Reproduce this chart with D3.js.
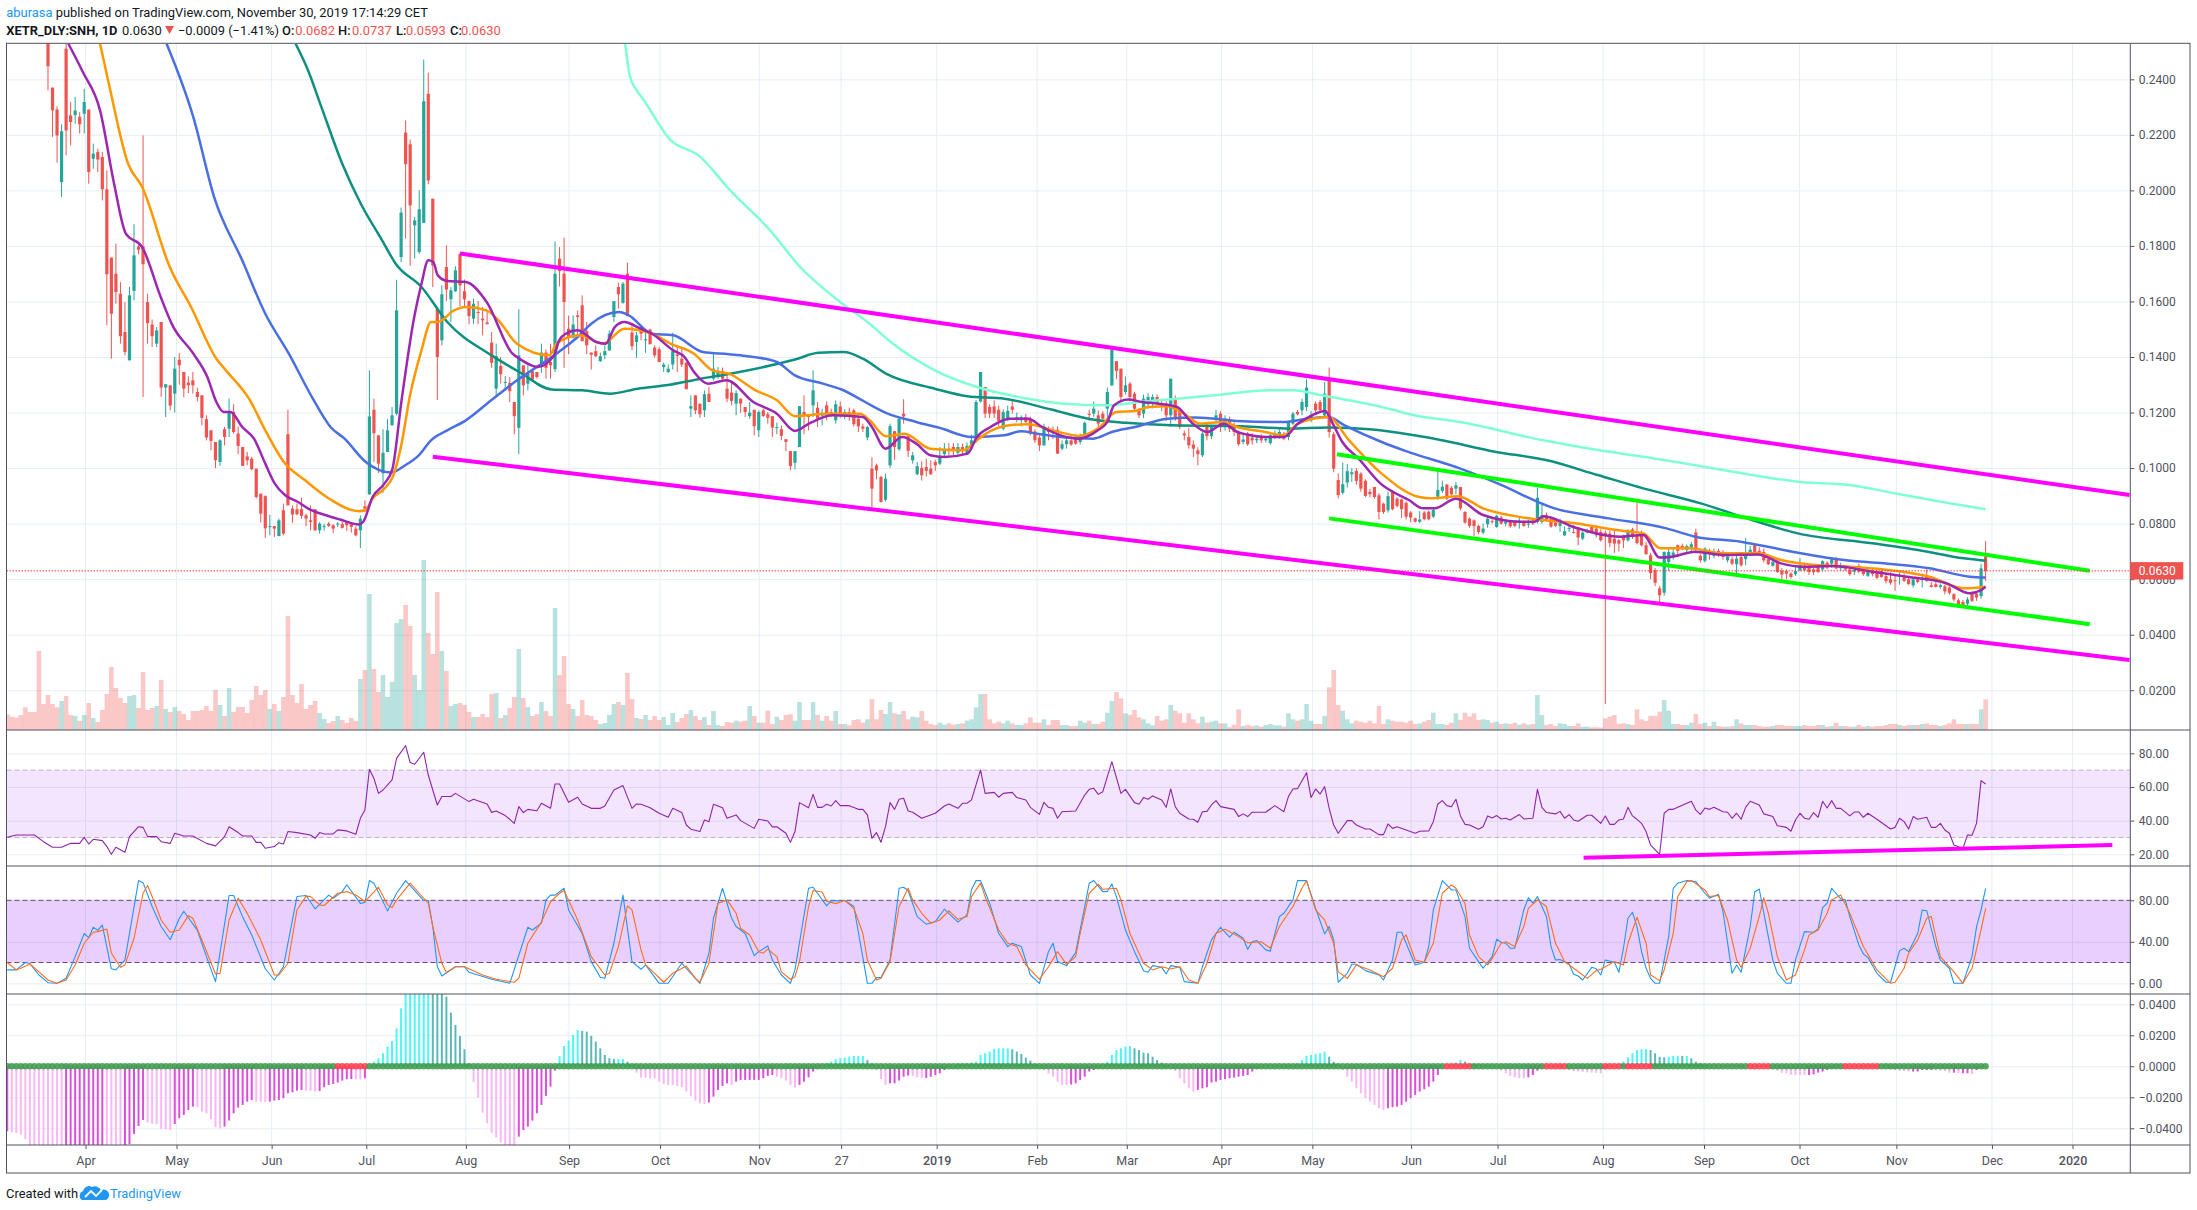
<!DOCTYPE html>
<html><head><meta charset="utf-8">
<script src="https://cdn.jsdelivr.net/npm/d3@7"></script>
<style>
html,body{margin:0;padding:0;background:#fff;overflow:hidden}
svg{display:block}
text{font-family:Roboto,"Noto Sans",sans-serif}
</style></head><body><svg id="c" width="2197" height="1210"></svg>
<script>
// ---------- categories / ticks ----------
const timeTickBars=[17.3,37.4,58.4,79.3,101.3,124.1,144.2,166.1,184.2,205.3,227.5,247.3,268.2,288.3,310.1,329.2,352.5,374.8,395.9,417.3,438.4,456.2];
const timeTickLabels=["Apr","May","Jun","Jul","Aug","Sep","Oct","Nov","27","2019","Feb","Mar","Apr","May","Jun","Jul","Aug","Sep","Oct","Nov","Dec","2020"];
const priceTicks=[0.02,0.04,0.06,0.08,0.10,0.12,0.14,0.16,0.18,0.20,0.22,0.24];
const rsiTicks=[20,40,60,80];
const stochTicks=[0,40,80];
const macdTicks=[-0.04,-0.02,0,0.02,0.04];
const lastPrice=0.063;
// ---------- candles: [open, high, low, close], price in 1e-4 units ----------
const candles=[
[3150,3200,3000,3050],[3050,3100,2900,2950],[2950,3050,2850,2900],[2900,2980,2800,2850],[2850,2950,2750,2800],[2800,2850,2650,2700],[2700,2800,2600,2650],[2650,2750,2560,2620],[2620,2680,2540,2570],
[2560,2600,2360,2447],[2370,2370,2193,2288],[2291,2303,2100,2198],[2030,2238,1976,2213],[2510,2530,2126,2216],[2270,2318,2162,2246],[2271,2336,2240,2288],[2265,2282,2205,2238],[2276,2366,2205,2318],[2291,2291,2024,2066],[2114,2168,2078,2132],
[2138,2150,2066,2111],[2120,2138,1964,2004],[2004,2072,1514,1698],[1758,1758,1394,1556],[1700,1808,1592,1634],[1628,1670,1448,1475],[1490,1598,1406,1418],[1388,1652,1388,1622],[1638,1878,1604,1766],[1798,1808,1770,1786],
[1798,2198,1256,1734],[1598,1628,1448,1522],[1517,1535,1436,1475],[1448,1508,1436,1496],[1526,1526,1256,1290],[1290,1302,1184,1302],[1298,1298,1208,1225],[1268,1400,1200,1358],[1390,1414,1300,1370],[1346,1346,1255,1286],
[1308,1330,1270,1298],[1316,1346,1268,1298],[1274,1290,1240,1256],[1262,1262,1154,1181],[1176,1190,1100,1110],[1136,1136,1064,1098],[1094,1094,1000,1028],[1022,1104,1008,1100],[1140,1148,1082,1112],[1142,1250,1112,1202],
[1202,1230,1124,1130],[1124,1150,1050,1080],[1076,1076,1008,1008],[1042,1058,1010,1028],[1034,1040,992,996],[998,998,890,896],[908,908,804,836],[899,902,749,783],[788,832,758,791],[791,791,752,782],
[755,818,755,812],[848,872,758,764],[1122,1210,866,866],[854,866,803,833],[852,872,830,834],[852,894,818,828],[830,836,790,818],[812,866,776,806],[852,852,774,776],[776,806,764,800],
[788,800,775,791],[800,806,788,792],[794,798,766,782],[798,806,788,800],[798,806,782,785],[806,810,774,794],[800,800,768,788],[782,790,754,758],[776,830,712,818],[862,884,842,854],
[905,1352,905,1186],[1210,1250,1022,1126],[1118,1118,982,1016],[981,1140,911,1055],[1058,1176,1058,1136],[1154,1220,1154,1190],[1196,1678,1190,1568],[1760,1938,1742,1920],[2208,2252,1826,2094],[2166,2183,1728,1946],
[1874,1904,1754,1892],[1778,2000,1772,1932],[1883,2471,1883,2321],[2348,2424,2022,2036],[1970,1970,1652,1730],[1574,1574,1245,1400],[1460,1658,1442,1626],[1724,1802,1602,1643],[1608,1652,1526,1640],[1637,1727,1634,1712],
[1770,1775,1583,1658],[1637,1679,1583,1608],[1602,1602,1518,1547],[1538,1610,1520,1592],[1562,1602,1518,1559],[1538,1580,1478,1532],[1524,1568,1518,1518],[1452,1490,1361,1379],[1286,1448,1262,1403],[1368,1400,1304,1338],
[1307,1331,1278,1310],[1307,1328,1238,1277],[1238,1238,1122,1187],[1145,1572,1050,1406],[1370,1370,1262,1298],[1304,1370,1280,1340],[1349,1352,1316,1319],[1346,1346,1322,1328],[1376,1448,1343,1416],[1416,1427,1322,1361],
[1382,1448,1322,1370],[1356,1816,1346,1700],[1754,1796,1654,1710],[1700,1830,1361,1598],[1502,1549,1410,1472],[1470,1550,1466,1517],[1550,1568,1472,1544],[1586,1622,1457,1457],[1493,1526,1410,1442],[1416,1416,1355,1408],
[1421,1442,1400,1403],[1385,1416,1382,1403],[1406,1442,1392,1421],[1424,1496,1422,1484],[1544,1601,1526,1601],[1652,1668,1574,1626],[1595,1670,1592,1664],[1700,1740,1547,1547],[1488,1520,1424,1439],[1454,1490,1397,1478],
[1496,1517,1460,1484],[1460,1496,1415,1464],[1499,1502,1446,1446],[1434,1442,1398,1406],[1428,1436,1382,1382],[1364,1380,1346,1373],[1346,1373,1342,1358],[1373,1488,1355,1421],[1409,1442,1346,1404],[1394,1430,1364,1373],
[1380,1380,1284,1284],[1214,1262,1184,1223],[1262,1262,1194,1208],[1232,1232,1181,1194],[1208,1280,1184,1266],[1268,1292,1238,1238],[1322,1412,1316,1358],[1328,1364,1322,1346],[1349,1362,1318,1322],[1286,1340,1238,1250],
[1272,1308,1226,1242],[1232,1280,1190,1270],[1250,1250,1199,1232],[1220,1220,1184,1202],[1187,1238,1178,1200],[1210,1210,1118,1151],[1136,1208,1112,1202],[1208,1214,1184,1188],[1194,1202,1160,1181],[1187,1187,1112,1146],
[1146,1164,1122,1148],[1140,1154,1100,1116],[1104,1104,1061,1094],[1061,1061,992,1007],[1019,1061,995,1061],[1076,1223,1076,1223],[1202,1262,1122,1190],[1194,1194,1136,1184],[1226,1352,1184,1280],[1217,1238,1148,1178],
[1189,1214,1154,1194],[1226,1240,1172,1190],[1202,1214,1184,1190],[1172,1244,1160,1230],[1222,1240,1180,1196],[1190,1212,1176,1202],[1202,1218,1170,1188],[1208,1214,1150,1158],[1178,1190,1130,1150],[1150,1160,1130,1142],
[1110,1152,1100,1148],[998,1038,854,926],[1010,1016,960,992],[968,972,876,878],[886,980,880,962],[1010,1160,1000,1151],[1133,1133,1030,1076],[1068,1180,1062,1178],[1196,1248,1160,1186],[1115,1115,1040,1062],
[1028,1058,1016,1046],[978,1022,974,1007],[1001,1025,955,974],[1004,1034,970,990],[998,1028,975,978],[1022,1030,990,1010],[1016,1076,1010,1040],[1050,1090,1040,1070],[1070,1090,1045,1062],[1076,1090,1046,1062],
[1055,1090,1050,1076],[1076,1088,1050,1062],[1050,1092,1046,1080],[1070,1120,1066,1100],[1100,1245,1090,1238],[1240,1346,1236,1346],[1292,1292,1180,1196],[1220,1230,1180,1196],[1222,1244,1180,1196],[1210,1225,1150,1170],
[1142,1212,1136,1202],[1178,1225,1170,1206],[1222,1244,1196,1210],[1178,1200,1165,1184],[1172,1190,1150,1184],[1184,1195,1160,1166],[1175,1185,1118,1124],[1132,1140,1090,1100],[1110,1118,1062,1082],[1082,1160,1080,1150],
[1138,1150,1100,1130],[1136,1150,1105,1128],[1138,1150,1052,1052],[1070,1100,1064,1086],[1086,1115,1070,1100],[1100,1115,1080,1085],[1106,1120,1084,1088],[1094,1125,1085,1112],[1118,1168,1105,1163],[1195,1210,1170,1192],
[1196,1240,1185,1214],[1190,1208,1135,1160],[1196,1205,1170,1178],[1214,1290,1180,1274],[1298,1427,1295,1427],[1385,1385,1320,1350],[1358,1358,1240,1256],[1274,1330,1265,1298],[1304,1310,1240,1256],[1268,1275,1205,1214],
[1208,1215,1180,1190],[1196,1265,1180,1250],[1230,1270,1215,1256],[1232,1266,1215,1256],[1256,1265,1225,1234],[1234,1245,1205,1225],[1232,1240,1170,1190],[1190,1322,1148,1322],[1250,1262,1170,1184],[1202,1205,1140,1148],
[1125,1135,1100,1118],[1112,1145,1070,1082],[1085,1100,1040,1070],[1064,1075,1010,1050],[1046,1130,1040,1124],[1148,1160,1100,1115],[1115,1155,1105,1148],[1178,1210,1170,1190],[1196,1205,1130,1148],[1148,1190,1135,1178],
[1172,1185,1130,1142],[1154,1165,1115,1130],[1130,1135,1080,1086],[1094,1125,1085,1103],[1124,1130,1080,1086],[1110,1125,1085,1100],[1100,1115,1090,1106],[1112,1122,1090,1100],[1100,1115,1092,1106],[1090,1125,1085,1118],
[1112,1135,1105,1124],[1112,1140,1105,1130],[1124,1130,1100,1106],[1112,1170,1100,1166],[1160,1202,1155,1196],[1202,1210,1190,1194],[1208,1250,1190,1238],[1220,1320,1205,1290],[1172,1205,1165,1190],[1232,1240,1190,1208],
[1238,1245,1200,1208],[1190,1310,1185,1268],[1316,1362,1110,1130],[1122,1130,985,998],[957,981,891,903],[911,1020,905,942],[948,1015,930,989],[978,1000,950,985],[990,1000,940,954],[980,985,915,926],
[954,960,895,900],[914,925,895,906],[932,932,890,896],[902,910,815,842],[872,875,835,842],[848,915,840,899],[917,920,848,852],[890,895,858,864],[887,890,820,852],[875,880,815,825],
[840,845,805,822],[819,822,804,807],[807,845,802,815],[840,845,812,816],[843,848,812,816],[825,860,820,849],[897,995,886,921],[918,955,910,933],[941,941,885,890],[929,935,900,906],
[926,950,905,938],[932,932,848,855],[842,845,800,804],[818,822,785,792],[812,815,755,791],[792,796,762,770],[768,800,762,782],[798,825,785,818],[809,815,800,806],[788,832,785,828],
[822,828,796,800],[800,818,790,808],[808,812,785,790],[806,810,788,792],[804,825,782,810],[804,810,788,792],[797,815,785,800],[810,815,795,800],[806,930,800,893],[806,868,800,830],
[830,840,808,812],[816,822,785,789],[804,810,788,792],[792,818,770,803],[758,790,755,773],[781,795,770,785],[770,795,765,767],[780,782,722,750],[746,772,740,768],[768,782,765,774],
[790,795,765,770],[782,795,750,758],[770,780,735,740],[767,775,150,758],[764,775,715,730],[746,780,695,728],[740,745,700,728],[752,760,712,740],[740,780,735,774],[779,785,745,752],
[758,875,725,730],[762,775,718,722],[722,735,688,690],[686,695,600,622],[632,640,575,587],[567,575,512,542],[551,700,540,698],[662,715,630,698],[680,715,670,696],[722,725,680,702],
[720,728,705,708],[705,725,695,719],[711,735,700,726],[768,782,693,705],[684,690,660,668],[666,715,660,710],[702,710,670,690],[684,710,675,698],[702,710,680,688],[698,705,670,680],
[668,690,660,682],[672,680,650,656],[654,690,622,674],[680,690,645,650],[672,748,650,686],[698,720,690,706],[722,730,690,695],[702,715,685,690],[698,710,660,668],[672,680,650,654],
[648,678,645,662],[666,670,622,626],[630,640,600,617],[629,635,600,620],[620,625,602,608],[618,645,612,629],[632,675,628,650],[647,660,628,632],[647,650,615,626],[635,642,615,625],
[650,655,622,626],[635,668,628,665],[659,665,635,642],[656,680,640,671],[675,680,635,639],[639,660,630,650],[645,650,630,635],[635,640,612,618],[627,645,615,633],[648,655,622,627],
[632,640,612,618],[612,635,608,629],[632,640,610,618],[629,635,600,605],[629,640,605,608],[611,620,585,593],[600,625,580,587],[596,615,558,594],[608,625,580,614],[612,620,590,594],
[600,610,580,582],[578,606,570,599],[600,608,585,590],[598,620,570,600],[611,635,590,594],[578,590,570,572],[582,590,570,572],[572,585,565,578],[574,580,545,556],[570,575,545,551],
[546,550,520,527],[524,530,505,510],[518,525,505,506],[512,535,505,527],[548,555,518,522],[548,555,522,534],[539,655,530,639],[682,737,593,630]
];
// ---------- volume (relative units) ----------
const volume=[
47,40,37,45,68,54,54,237,78,105,78,68,87,102,45,42,27,45,81,36,24,60,108,189,126,96,81,102,105,66,174,60,66,72,150,63,54,69,57,48,
30,57,57,60,72,57,120,75,42,126,54,69,69,51,90,132,105,120,63,78,57,99,342,105,81,138,63,75,87,51,33,21,27,42,30,21,36,27,153,180,
408,183,114,165,99,144,321,333,375,312,165,120,510,291,228,414,237,177,72,78,81,75,54,39,39,48,39,108,111,36,45,66,99,243,96,69,42,48,84,57,
42,366,165,222,78,63,42,90,45,42,30,18,21,45,78,84,75,171,93,36,33,45,30,42,30,39,15,51,24,36,48,60,42,30,39,15,57,15,12,24,
22,28,25,28,72,42,22,22,58,18,40,30,45,47,28,84,30,30,84,45,28,42,28,57,18,18,14,30,32,22,32,93,32,60,48,84,50,47,57,32,40,38,
57,28,18,15,22,16,20,16,18,20,28,32,68,108,108,32,20,25,20,28,20,15,15,20,38,22,22,32,15,30,30,15,15,12,12,28,22,28,
18,18,25,52,87,114,95,50,45,60,38,32,20,14,42,28,32,75,58,50,22,50,32,20,40,22,25,28,20,20,8,16,62,12,15,12,14,10,15,18,
14,14,10,50,32,28,32,78,28,18,18,42,128,180,75,58,32,20,28,25,22,28,20,72,18,32,28,25,25,22,28,18,20,25,30,52,18,18,15,22,50,30,
52,40,50,30,32,30,22,25,18,20,18,22,16,20,16,18,105,45,15,18,12,20,18,12,12,20,10,10,8,8,7,35,40,45,18,20,18,15,62,32,
27,43,42,55,90,58,18,18,15,15,22,48,18,22,12,25,12,10,10,12,32,20,15,15,15,12,10,10,12,15,15,12,12,12,12,15,12,12,15,15,
10,12,22,12,12,10,10,15,10,12,10,12,12,15,18,18,15,12,15,15,15,18,20,15,15,12,15,20,32,18,18,18,18,18,62,92];
// ---------- moving averages: bar position and price (1e-4) ----------
const maPurpleBar=[13.5,16.7,20.5,23.6,26.2,29.8,33.9,36.5,41.1,44.2,46.2,47.8,49.3,51.9,54.5,57,59.1,61.4,64.2,66.8,70.4,73.5,77.6,78.6,80.7,83.3,85.1,87.1,89.9,91.5,93,94.1,95.1,97.2,101.3,105.9,111.6,113.1,117.2,120.8,121.9,123.4,126,128,130.1,132.2,134.2,136.3,139.9,142.4,147.1,149.6,151.7,154.8,158.9,164.8,170,174,177.1,182.3,189,191,194,197.7,200.8,203.9,207,212.1,214.2,217.2,221.4,225.5,228.6,232.7,236.8,240.9,243,244.5,247.6,250.7,254.3,258.4,261.5,265.1,268.7,271.7,273.8,277.9,282,285.1,288.2,291.1,292.8,294.9,298.5,303.3,309.6,312.8,315.3,320,326,334.3,337.4,339.3,346.3,356.4,361.4,365,367.7,372.8,379.1,386.7,391.8,396.8,403.1,412,419.6,428.4,433.5,436,437];
const maPurpleVal=[2528,2426,2288,2024,1844,1796,1616,1514,1412,1328,1238,1202,1202,1148,1106,1016,944,902,878,851,830,815,797,806,896,944,998,1244,1544,1664,1748,1742,1694,1674,1670,1598,1412,1394,1364,1406,1460,1484,1496,1478,1454,1448,1508,1526,1502,1484,1424,1400,1346,1304,1316,1238,1196,1134,1160,1190,1184,1148,1070,1112,1088,1046,1040,1052,1112,1148,1178,1178,1148,1118,1106,1136,1166,1226,1247,1238,1232,1220,1166,1130,1160,1130,1121,1112,1112,1160,1190,1206,1160,1094,1034,945,885,855,855,890,831,807,807,827,786,753,759,678,681,699,687,689,657,645,647,627,609,585,549,561,573];
const maOrangeBar=[20.5,22.6,26.7,29.8,35.9,40.6,46.2,48.3,53.4,57,61.1,65.8,71.4,77.6,79.1,80.7,83.3,85.3,87.1,88.9,91.5,93.6,95.1,98.7,101.3,105.9,108.5,112.6,119.8,121.3,126.5,131.6,136.3,142.4,146.5,151.7,155.8,159.4,165.3,170,174,177.1,180.2,188.4,190.5,194.1,198.2,203.9,211.1,214.2,216.2,221.4,225.5,231.6,236.8,240.9,245,249.1,252.2,256.3,259.9,263.5,268.7,271.7,277.9,282,285.1,291.8,296.4,303.6,311.9,314.7,320.4,326,336.1,346.3,356.4,361.4,365.2,371.5,379.1,386.7,391.8,399.3,406.9,414.5,424.6,432.2,437];
const maOrangeVal=[2528,2372,2096,2012,1724,1580,1394,1352,1250,1136,1022,956,887,845,848,890,926,974,1088,1256,1424,1526,1526,1568,1580,1568,1532,1448,1406,1448,1478,1448,1502,1484,1448,1412,1352,1340,1280,1244,1187,1190,1196,1196,1172,1115,1124,1070,1064,1100,1124,1154,1158,1133,1116,1142,1202,1206,1220,1223,1196,1160,1166,1148,1130,1118,1160,1184,1100,980,896,891,899,855,819,801,775,765,711,711,693,693,669,651,645,635,609,567,573];
const maBlueBar=[35.2,41.1,45.7,51.9,57,62.2,67.5,71.4,74.5,79.2,84.8,87.9,90.9,93.6,97.2,101.3,106.9,112.6,121.3,126,129,135.2,137.3,142.4,147.1,153.7,159.4,164.8,170,174,180.2,184.3,189.5,194.1,200.8,205.9,213.1,220.3,223.9,227.5,233.7,239.9,244,249.1,256.3,262.5,271.7,282,287.2,291.8,295.4,303.6,308.8,321,329.2,341.8,353.8,366.5,372.8,382.9,394.3,405.7,414.5,424.6,433.5,437];
const maBlueVal=[2528,2264,1976,1748,1556,1412,1250,1148,1106,1022,984,1010,1046,1100,1136,1172,1244,1316,1412,1472,1520,1562,1550,1484,1478,1418,1410,1400,1382,1334,1304,1283,1238,1199,1166,1145,1112,1118,1133,1124,1110,1106,1130,1148,1178,1182,1170,1166,1178,1184,1154,1094,1062,998,945,855,819,783,753,735,699,669,657,639,609,606];
const maTealBar=[63.7,66.3,69.4,74,78.1,82.8,85.8,91.5,97.2,107,113.1,120.3,127,133.2,139.3,145.5,153.2,159.7,174,179.2,184.8,189,194.1,204.9,212.1,220.3,230.6,238.8,247.1,257.3,272.8,283.1,291.8,301.6,310.8,316.6,328.6,339.9,351.3,361.4,374.1,385.4,395.5,412,422.1,432.2,437];
const maTealVal=[2528,2438,2300,2096,1952,1820,1736,1652,1526,1406,1346,1283,1280,1268,1286,1298,1322,1340,1391,1415,1418,1394,1340,1286,1259,1250,1211,1178,1163,1154,1151,1142,1146,1139,1118,1101,1059,1029,975,927,873,813,765,729,705,675,666];
const maAquaBar=[136.5,137.5,138.8,140.4,146.6,152.7,159.7,168.5,175.1,183.9,190.5,195.1,204.9,214.2,225.5,233.7,243,250.2,258.4,266.6,278.9,284.1,290.3,296.4,303.6,310.8,320.9,339.3,351.3,361.4,374.1,385.4,395.5,406.9,417,427.1,437];
const maAquaVal=[2528,2414,2366,2330,2180,2126,2000,1856,1725,1599,1520,1455,1352,1292,1250,1232,1226,1238,1250,1262,1280,1280,1262,1244,1220,1190,1166,1100,1065,1041,1007,975,951,939,909,879,852];
// ---------- drawn trend lines: bar and price (1e-4) ----------
const channelUpperBar=[100,468.8], channelUpperVal=[1773,903];
const channelLowerBar=[94,468.8], channelLowerVal=[1041,309];
const greenUpperBar=[293.7,460], greenUpperVal=[1050,630];
const greenLowerBar=[292,460], greenLowerVal=[819,438];
const rsiTrendBar=[348.2,465], rsiTrendVal=[18,25.5];
// ---------- RSI ----------
const rsiBar=[0,2,4,6,8,10,12,14,16,17,18,19,21,22,23,24,26,27,29,30,31,33,34,36,37,39,41,44,46,48,49,51,52,54,55,56,57,59,60,61,62,64,67,68,69,70,72,73,75,77,78,79,80,81,82,83,85,86,88,89,90,92,93,95,96,98,99,102,103,106,107,108,110,111,112,113,114,115,117,118,120,121,122,124,126,127,129,131,132,134,136,138,139,140,142,144,146,147,149,150,151,153,154,155,156,158,159,161,162,165,166,168,169,170,172,173,174,175,177,178,179,180,181,182,183,184,186,188,189,190,191,192,193,194,195,196,197,198,199,200,202,205,207,208,210,211,212,213,215,216,218,219,220,222,223,225,226,228,229,230,231,232,233,236,238,239,240,241,242,244,246,247,249,250,251,252,253,255,256,257,258,259,261,262,263,264,265,266,267,268,271,272,273,274,275,278,280,282,283,284,285,287,288,289,290,291,292,293,294,296,297,298,300,301,303,304,305,306,307,309,311,312,314,315,316,317,318,319,320,321,322,323,325,326,327,328,329,330,331,332,334,335,337,338,339,340,342,343,344,345,346,347,349,350,352,353,354,355,356,357,358,359,360,361,362,363,365,366,367,368,372,373,374,375,376,377,379,380,381,382,383,384,385,387,388,390,391,393,394,395,396,397,398,399,400,401,402,403,404,405,407,408,409,410,411,413,416,417,418,419,420,421,422,424,425,426,427,428,429,430,432,433,434,435,436,437];
const rsiVal=[30.1,31.5,31.5,31.5,27.5,24.2,24.2,26.5,26.5,30.1,26.1,28.9,28.1,24.6,20,24.2,21.2,30.5,36.4,36,30.5,30.5,27.5,26.5,32.5,30.9,30.9,26.5,25,30.5,36.4,32.9,30.9,30.9,27.1,27.1,23.6,24.6,26.9,26.1,33.5,32.9,31.5,29.5,32.9,32.1,32.1,34.5,33.9,31.9,41.4,46.3,70.5,65.1,56.2,58.2,64.2,77,84.6,74.5,73.5,80.6,67.1,49.3,54.3,54.3,56.2,51.3,52.7,49.9,44.9,45.7,43,40.8,38.4,48.3,44.8,46.7,45.9,50.3,47.3,61.8,61.8,50.9,53.9,49.9,47.3,47.3,48.7,58.2,60.8,47.3,49.9,49.7,47.7,44.4,42,47.3,44.8,37.4,34.9,33.5,40.4,39.4,49.7,47.7,41.4,43.4,40,35.4,40.8,39.8,36.3,36.4,32.5,27.1,33.5,50.7,47.7,55.6,47.9,47.9,49.7,48.7,51.9,48.9,48.9,46.7,46.7,43.4,29.5,32.9,27.1,36.4,50.7,46.7,52.7,53.3,45.7,45,41.4,44.4,48.7,49.9,47.3,50.3,50.3,52.3,70.1,56.2,56.8,53.9,56.2,56.8,53.7,52.3,47.9,43.7,50.9,47.9,47.3,41.4,45.3,45.7,55.2,58.6,59.2,55.6,57.2,75,56.2,58.6,50.7,49.7,53.7,52.7,54.7,52.3,47.9,58.8,48.3,44.4,41,40.8,39,45.3,45.5,49.3,51.9,48.3,46.7,42.4,44,42.4,45,45,48.9,45.3,54.3,58.8,59,68.5,53.7,58.8,55.8,60.2,47.3,37.4,32.5,40,40,37.4,35,35,31.7,31.7,38,35.4,36.4,34.4,32.5,33.7,33.9,39.4,49.9,51.9,48.9,48.3,52.7,42.8,37.8,37.4,34.9,36.4,42.8,41.6,43,41,41.4,40.4,43.6,41,41.4,58.6,47.9,44.8,44,45.5,41.4,43.6,40.4,39.6,43.2,43.2,38.4,42.8,37.8,37.8,40.4,41,47.9,42.8,40.8,38.4,33.5,25.5,20,44.4,46.7,46.7,51.5,46.3,43.7,47.5,46.7,47.9,45.3,45,41.4,44.4,40.8,47.9,51.5,49.3,44,42.4,37,36,33.7,40.4,44.4,41.4,40.8,44.8,42,51.5,47.5,51.9,47.3,47.3,42.8,45.1,45.1,42,44.4,40.8,35,36,41.4,39.4,35,42.4,40.8,42,36,36,38.4,34.4,32.5,25.5,23.5,31.5,31.3,38.4,63.8,61.8];
const rsiBandHigh=70, rsiBandLow=30;
// ---------- Stochastic ----------
const stochKBar=[0,2,4,5,7,9,11,13,15,17,18,19,20,21,23,24,26,29,30,32,34,36,38,39,42,44,46,49,50,52,54,57,59,61,64,66,68,71,72,74,75,78,79,80,81,84,86,88,92,93,94,95,96,99,101,102,107,111,115,116,118,119,120,121,123,124,127,129,131,132,134,136,138,140,141,144,146,149,153,155,156,158,160,161,163,165,166,168,169,171,173,174,177,178,181,182,185,187,190,191,192,193,195,197,198,199,201,203,205,207,210,212,213,214,215,217,219,221,222,224,226,228,230,231,232,234,236,238,239,240,242,243,244,245,247,249,251,252,253,255,256,257,259,260,263,264,266,268,270,271,273,274,275,276,278,279,281,282,284,285,287,289,291,292,293,294,296,297,298,300,303,304,306,307,308,311,313,314,315,317,319,320,322,323,325,326,328,329,330,331,332,333,335,336,337,338,340,341,342,343,345,346,347,348,350,351,352,353,355,356,357,358,359,360,361,362,363,364,365,367,368,369,371,373,375,376,378,379,381,382,383,385,386,387,389,390,391,393,394,395,397,399,400,401,402,403,405,406,407,409,410,411,413,415,416,418,419,420,422,423,424,426,427,429,430,432,434,435,436,437];
const stochKVal=[12.9,12.9,20,19,8,0.6,0,4.8,25.7,48,44,54,51,56,14,12.9,22.5,99,97,74,54.7,42,62.4,69.5,51,25.7,1.6,84.6,84.6,64,46.6,14,3.2,16,83.6,84.6,71.8,85,82,88.4,95,77,77.8,99,96.5,69.8,86.8,99,79.8,79.8,54.7,16,7,16,16,10.6,3.9,0,54,51.4,58,80.4,85,85,91.6,70.7,48,20.9,5.8,4.8,38.6,85,20.9,13.5,17.7,0,0,19.3,0,29,62.7,91.6,62.7,54.7,48,26.7,30.5,36,22.5,8,0,12.9,91.6,92.6,74.6,79.4,79.8,74,0,0,5.5,5.5,22.5,91.6,92.6,89.4,64.3,57,59.5,71.4,58.9,65.9,90.4,99,99,77.2,48,35.4,38.6,35.4,8,0,30.5,38.6,20.9,17,29.6,74,96.5,99,88.4,88.4,95.8,83.6,51.4,30.5,12.2,10.6,17,15.4,9,17,15.4,1.6,0,16,41.8,54,44.4,49.2,43.4,32.8,40,41.2,32.2,31,64.3,67.5,80.4,99,99,72.3,47.6,54.7,41.8,1,9.6,18.3,18.3,12.2,8,3.2,22.5,49.2,49.2,17.7,20.3,35.4,70.7,99,90,90,64.3,33.8,20.9,14.5,25.7,42.4,39.5,38.6,33.8,33.8,70.7,82.6,77.2,83.6,64.3,35.4,22.5,23,18.6,8.7,7,3.2,15.4,14,8,22.5,20.3,10.6,33.8,62.7,68.5,54.7,30.5,14.5,4.8,0,0,45,91.6,96.5,99,98,86.8,82,85.8,69,9.6,17.7,10.6,54.7,88,90.9,45,22.5,9.6,0,0,22.5,49.8,49.2,52.3,73,77,91.6,81.4,80.4,64.3,37,28.3,25,9.6,1,1,31.5,33.8,30.5,48,70.7,70,35.4,22.5,14.5,0,0,25.7,54.7,70.7,91.6];
const stochDBar=[0,2,3,5,7,9,11,13,15,17,19,20,22,23,25,26,28,30,31,32,34,36,38,40,41,43,46,47,49,51,53,56,59,60,62,64,66,67,69,70,73,75,77,79,82,84,85,86,89,91,93,94,96,97,99,101,105,108,112,113,115,118,120,122,123,126,129,132,133,135,137,138,140,141,143,145,147,150,152,153,155,157,159,161,162,164,166,167,168,170,171,173,174,175,177,178,180,181,183,185,187,189,190,192,193,195,197,199,200,202,204,206,208,210,212,213,215,216,219,221,223,225,228,230,232,234,236,237,239,241,242,245,246,248,251,253,255,257,259,261,263,265,267,269,272,274,277,279,281,284,286,287,289,291,293,294,296,298,301,304,306,308,309,311,313,315,317,319,320,322,323,325,327,328,330,331,333,335,336,338,340,342,344,346,349,351,352,355,357,358,360,362,363,365,366,368,369,371,372,375,376,378,380,382,383,385,387,388,389,391,393,395,397,398,400,402,403,405,407,410,413,416,417,419,420,422,424,425,427,430,432,434,436,437];
const stochDVal=[20,12.9,14.5,18.6,11,3.2,0,3.2,17.7,38.6,49.2,49.8,52.3,28.9,15.4,17.7,43.4,86.8,94.2,83.6,61,49.2,51.4,65.2,62.7,41.8,9,9.6,61,81.9,67.5,41.8,8,8,19.3,70.7,84,83.6,75.6,75,86.8,88.4,85.2,78.8,92.6,75.6,73,80.4,96.5,86.8,77.2,54.7,19.3,10.3,16,16,8,3.9,1,4.8,38.6,59.2,78.4,86.8,89.4,61,25.7,8,9.6,35.4,74.6,70.7,32.2,17.7,9.6,1,9.6,16.7,4.8,1,19.3,77.2,80.4,67.5,53,46.6,30.5,29,33,25.7,11,3.9,6.4,20.9,74,89.4,88,79,76.8,80,72.3,48,22.5,3.2,4.8,20.9,74,91.6,80.4,67.5,57.9,61,69.8,61.7,64.3,83.6,96.5,83.6,51.4,38.6,35.4,17.7,3.9,16,30.5,18.3,25.7,48,86.8,95.5,90.6,91.6,80.4,48,19.3,12.9,16,13.8,16,3.2,0,19.3,48,52,45,39,40,33.8,54.7,74,91.6,99,70.7,61,38.6,11,4.8,17.7,12.9,6.4,14.5,41.8,46.6,22.5,20.3,38.6,86.8,94.8,91.6,77,46.6,25.7,17.7,24,38.6,40,35.4,54.7,72.3,80.4,74,38.6,21,14.5,4.8,12.2,13.5,20.9,17.7,38.6,63.7,38.6,8,2.6,12.9,48,83.6,98,99,90,83.6,84.6,61,22.5,15.4,33.8,64.3,82.6,67.5,25.7,3.2,8,32.2,46.6,51.4,67.5,80.4,85.2,67.5,35.4,12.9,0,1,14.5,29,41.8,62.7,64.3,25.7,11,0,14.5,51.4,72.3];
const stochBandHigh=80, stochBandLow=20;
// ---------- MACD histogram (1e-4) ----------
const macdHist=[
-419,-426,-430,-441,-469,-540,-580,-620,-650,-680,
-700,-720,-740,-720,-700,-680,-660,-640,-620,-590,
-560,-540,-545,-550,-555,-560,-560,-501,-436,-385,
-346,-363,-372,-374,-404,-406,-411,-372,-335,-314,
-282,-260,-262,-292,-303,-342,-393,-400,-389,-350,
-303,-267,-249,-228,-217,-228,-229,-230,-228,-221,
-217,-206,-174,-168,-157,-153,-157,-158,-163,-159,
-135,-120,-114,-105,-92,-84,-82,-84,-85,-77,
5,30,52,84,127,163,245,374,480,510,
540,560,575,590,580,550,510,449,346,267,
196,110,19,-99,-202,-299,-368,-428,-458,-492,
-515,-525,-530,-454,-411,-389,-350,-303,-249,-191,
-131,-28,67,131,166,202,234,228,224,196,
159,116,73,52,47,47,47,30,9,-41,
-73,-74,-77,-78,-99,-114,-120,-121,-127,-135,
-163,-191,-221,-239,-243,-234,-196,-153,-127,-110,
-120,-99,-88,-88,-88,-88,-88,-77,-62,-56,
-67,-77,-92,-120,-138,-120,-99,-71,-34,-13,
5,19,30,45,52,56,62,67,67,67,
41,19,-24,-82,-120,-110,-110,-92,-67,-60,
-62,-71,-75,-75,-67,-56,-45,-24,-6,4,
19,19,19,24,30,73,84,95,112,116,
116,116,110,95,80,56,37,13,-6,-24,
-45,-67,-99,-120,-122,-118,-110,-88,-67,-34,
-24,-6,-3,30,73,105,116,127,131,116,
105,88,84,62,41,24,9,-2,-30,-77,
-110,-142,-163,-152,-142,-135,-105,-99,-88,-82,
-77,-73,-67,-62,-56,-34,-13,-2,3,4,
5,5,5,5,5,19,41,67,73,80,
84,95,62,30,9,-24,-67,-99,-142,-174,
-206,-228,-249,-271,-281,-271,-264,-260,-249,-228,
-206,-185,-163,-148,-131,-99,-56,-5,2,5,
24,41,30,19,15,9,4,3,2,-2,
-28,-45,-62,-71,-77,-78,-71,-56,-28,-6,
-3,-2,-2,-3,-2,-24,-32,-34,-36,-38,
-40,-42,-45,-13,-3,-1,1,30,58,84,
105,110,111,105,84,62,58,62,67,68,
67,67,52,30,19,9,2,1,1,1,
1,1,1,-1,-1,-1,-1,-2,-4,-6,
-19,-28,-41,-45,-54,-55,-56,-57,-56,-52,
-41,-34,-24,-13,-4,-2,-1,-1,-1,-1,
-1,-2,-2,-2,-2,-3,-12,-24,-28,-30,
-34,-34,-34,-24,-24,-24,-26,-28,-30,-41,
-41,-45,-45,-45,-49,-24,-10,4];
const squeezeStart=[73,318,340,353,358,385,406];
const squeezeEnd=[79,323,344,356,363,389,413];

// ---------- layout ----------
const L=6.5,AX=2130.3,R=2190,T=43.3,B1=730,B2=866,B3=994,B4=1145,B5=1173;
const unit=1e-4;
const x=d3.scaleLinear().domain([0,437]).range([7.25,1985.6]);
const yP=d3.scaleLinear().domain([0,0.24]).range([745.8,79.3]);
const yV=d3.scaleLinear().domain([0,510]).range([730,560]);
const yR=d3.scaleLinear().domain([20,80]).range([854.3,753.3]);
const yS=d3.scaleLinear().domain([0,80]).range([983.3,900.3]);
const yM=d3.scaleLinear().domain([-0.04,0.04]).range([1128.3,1004.3]);
const UP="#26a69a",DN="#ef5350",GRID="#e6eef4",FRAME="#50535e",TXT="#50535e";
const svg=d3.select("#c");
const defs=svg.append("defs");
function clip(id,y0,y1){defs.append("clipPath").attr("id",id).append("rect").attr("x",L).attr("y",y0).attr("width",AX-L).attr("height",y1-y0);}
clip("cp1",T,B1);clip("cp2",B1,B2);clip("cp3",B2,B3);clip("cp4",B3,B4);
const panes=[["cp1",T,B1,yP,priceTicks],["cp2",B1,B2,yR,rsiTicks],["cp3",B2,B3,yS,[0,40,80]],["cp4",B3,B4,yM,macdTicks]];
const g={};
panes.forEach(([id,y0,y1,s,t])=>{
  const p=svg.append("g").attr("clip-path",`url(#${id})`);g[id]=p;
  p.selectAll(".v").data(timeTickBars).join("line").attr("x1",d=>x(d)).attr("x2",d=>x(d)).attr("y1",y0).attr("y2",y1).attr("stroke",GRID);
  p.selectAll(".h").data(t).join("line").attr("x1",L).attr("x2",AX).attr("y1",d=>s(d)+.5).attr("y2",d=>s(d)+.5).attr("stroke",GRID);
});
// ---------- volume ----------
const gm=g.cp1;
gm.selectAll(".vol").data(volume).join("rect").attr("x",(d,i)=>x(i)-2.3).attr("width",4.6)
 .attr("y",d=>yV(d)).attr("height",d=>yV(0)-yV(d))
 .attr("fill",(d,i)=>candles[i][3]>=candles[i][0]?UP:DN).attr("opacity",.32);
// ---------- candles ----------
gm.selectAll(".wick").data(candles).join("line").attr("x1",(d,i)=>x(i)).attr("x2",(d,i)=>x(i))
 .attr("y1",d=>yP(d[1]*unit)).attr("y2",d=>yP(d[2]*unit)).attr("stroke",d=>d[3]>=d[0]?UP:DN).attr("stroke-width",1);
gm.selectAll(".body").data(candles).join("rect").attr("x",(d,i)=>x(i)-1.6).attr("width",3.2)
 .attr("y",d=>yP(Math.max(d[0],d[3])*unit)).attr("height",d=>Math.max(1,Math.abs(yP(d[0]*unit)-yP(d[3]*unit))))
 .attr("fill",d=>d[3]>=d[0]?UP:DN);
// ---------- lines ----------
function mline(p,bars,vals,ys,color,w,k,curve){
  const l=d3.line().x(d=>x(d[0])).y(d=>ys(d[1]*k)).curve(curve||d3.curveLinear);
  p.append("path").datum(bars.map((b,i)=>[b,vals[i]])).attr("d",l).attr("fill","none").attr("stroke",color).attr("stroke-width",w).attr("stroke-linejoin","round");
}
mline(gm,maAquaBar,maAquaVal,yP,"#7fffd4",2.5,unit,d3.curveMonotoneX);
mline(gm,maTealBar,maTealVal,yP,"#0e9081",2.5,unit,d3.curveMonotoneX);
mline(gm,maBlueBar,maBlueVal,yP,"#4a6fe3",2.5,unit,d3.curveMonotoneX);
mline(gm,maOrangeBar,maOrangeVal,yP,"#ff9800",2.5,unit,d3.curveMonotoneX);
mline(gm,maPurpleBar,maPurpleVal,yP,"#9c27b0",2.5,unit,d3.curveMonotoneX);
mline(gm,channelUpperBar,channelUpperVal,yP,"#ff00ff",4,unit);
mline(gm,channelLowerBar,channelLowerVal,yP,"#ff00ff",4,unit);
mline(gm,greenUpperBar,greenUpperVal,yP,"#00ff00",4,unit);
mline(gm,greenLowerBar,greenLowerVal,yP,"#00ff00",4,unit);
gm.append("line").attr("x1",L).attr("x2",AX).attr("y1",yP(lastPrice)).attr("y2",yP(lastPrice)).attr("stroke","#ef3b3b").attr("stroke-width",1).attr("stroke-dasharray","1.5 1.5");
// ---------- RSI ----------
const gr=g.cp2;
gr.append("rect").attr("x",L).attr("width",AX-L).attr("y",yR(rsiBandHigh)).attr("height",yR(rsiBandLow)-yR(rsiBandHigh)).attr("fill","#8700eb").attr("opacity",.1);
[rsiBandHigh,rsiBandLow].forEach(v=>gr.append("line").attr("x1",L).attr("x2",AX).attr("y1",yR(v)).attr("y2",yR(v)).attr("stroke","#c3adcc").attr("stroke-dasharray","5 3"));
mline(gr,rsiBar,rsiVal,yR,"#8e24aa",1.1,1);
mline(gr,rsiTrendBar,rsiTrendVal,yR,"#ff00ff",4,1);
// ---------- Stoch ----------
const gs=g.cp3;
gs.append("rect").attr("x",L).attr("width",AX-L).attr("y",yS(stochBandHigh)).attr("height",yS(stochBandLow)-yS(stochBandHigh)).attr("fill","#910ff5").attr("opacity",.2);
[stochBandHigh,stochBandLow].forEach(v=>gs.append("line").attr("x1",L).attr("x2",AX).attr("y1",yS(v)).attr("y2",yS(v)).attr("stroke","#5d4a6e").attr("stroke-dasharray","5 3"));
mline(gs,stochKBar,stochKVal,yS,"#2196f3",1.1,1);
mline(gs,stochDBar,stochDVal,yS,"#ff6d1f",1.1,1);
// ---------- MACD ----------
const gc=g.cp4;
function histColor(d,i){const prev=i?macdHist[i-1]:d;
  if(d>=0) return d>=prev?"#4df5f5":"#5db8b8";
  return d<prev?"#f9b8f5":"#db50db";}
gc.selectAll(".mh").data(macdHist).join("rect").attr("x",(d,i)=>x(i)-1).attr("width",2)
 .attr("y",d=>Math.min(yM(d*unit),yM(0))).attr("height",d=>Math.abs(yM(d*unit)-yM(0))).attr("fill",histColor);
function isSqueeze(i){return squeezeStart.some((s,k)=>i>=s&&i<=squeezeEnd[k]);}
gc.selectAll(".dot").data(macdHist).join("circle").attr("cx",(d,i)=>x(i)).attr("cy",yM(0)).attr("r",3.2)
 .attr("fill",(d,i)=>isSqueeze(i)?"#ff4050":"#3f9c4f").attr("opacity",.88);
// ---------- axes ----------
function yAxis(s,t,fmt){const a=svg.append("g").attr("transform",`translate(${AX},0)`).call(d3.axisRight(s).tickValues(t).tickFormat(fmt).tickSize(4).tickPadding(4.5));
  a.select(".domain").remove();a.selectAll("line").attr("stroke",FRAME);a.selectAll("text").attr("fill",TXT).style("font-size","12px").style("font-family","Roboto");}
const f4=d3.format(".4f"),f2=d3.format(".2f");
yAxis(yP,priceTicks,f4);yAxis(yR,rsiTicks,f2);yAxis(yS,stochTicks,f2);yAxis(yM,macdTicks,f4);
const xa=svg.append("g").attr("transform",`translate(0,${B4})`).call(d3.axisBottom(x).tickValues(timeTickBars).tickFormat((d,i)=>timeTickLabels[i]).tickSize(4).tickPadding(7));
xa.select(".domain").remove();xa.selectAll("line").attr("stroke",FRAME);
xa.selectAll("text").attr("fill",TXT).style("font-size","12.5px").style("font-family","Roboto").style("font-weight",(d,i)=>/^20/.test(timeTickLabels[i])?"500":"400");
// ---------- frame ----------
const fr=svg.append("g").attr("stroke",FRAME).attr("stroke-width",1).attr("fill","none");
fr.append("rect").attr("x",L).attr("y",T).attr("width",R-L).attr("height",B5-T);
[B1,B2,B3,B4].forEach(y=>fr.append("line").attr("x1",L).attr("x2",R).attr("y1",y).attr("y2",y));
fr.append("line").attr("x1",AX).attr("x2",AX).attr("y1",T).attr("y2",B5);
// ---------- last price label ----------
svg.append("rect").attr("x",AX).attr("y",yP(lastPrice)-8.7).attr("width",53).attr("height",17.4).attr("fill",DN);
svg.append("text").attr("x",AX+8.5).attr("y",yP(lastPrice)+4.3).attr("fill","#fff").style("font-size","12px").text(f4(lastPrice));
// ---------- header ----------
const h1=svg.append("text").attr("x",6.3).attr("y",17).style("font-size","12.9px").attr("fill","#131722");
h1.append("tspan").attr("fill","#2196f3").text("aburasa");
h1.append("tspan").text(" published on TradingView.com, November 30, 2019 17:14:29 CET");
const hdr=[[6.3,"XETR_DLY:SNH, 1D","#131722",700],[122,"0.0630","#131722",400],[178,"−0.0009 (−1.41%)","#131722",400],[282,"O:","#131722",500],[295.3,"0.0682",DN,400],[338,"H:","#131722",500],[352,"0.0737",DN,400],[396,"L:","#131722",500],[406,"0.0593",DN,400],[450,"C:","#131722",500],[461,"0.0630",DN,400]];
hdr.forEach(([px,t,c,w])=>svg.append("text").attr("x",px).attr("y",34.6).attr("fill",c).style("font-size","12.9px").style("font-weight",w).text(t));
svg.append("path").attr("d","M165,26 L174,26 L169.5,34 Z").attr("fill",DN);
// ---------- footer ----------
svg.append("text").attr("x",6).attr("y",1198).attr("fill","#131722").style("font-size","12.9px").text("Created with");
svg.append("path").attr("d","M82,1200 a5,5 0 0 1 1,-9 a6,6 0 0 1 9,-4 a7,7 0 0 1 9,3 a5.5,5.5 0 0 1 5,10 Z").attr("fill","#2196f3");
svg.append("path").attr("d","M85,1197 L91,1191 L96,1196 L102,1190").attr("fill","none").attr("stroke","#fff").attr("stroke-width",1.8);
svg.append("text").attr("x",110).attr("y",1198).attr("fill","#2196f3").style("font-size","12.9px").text("TradingView");
</script></body></html>
